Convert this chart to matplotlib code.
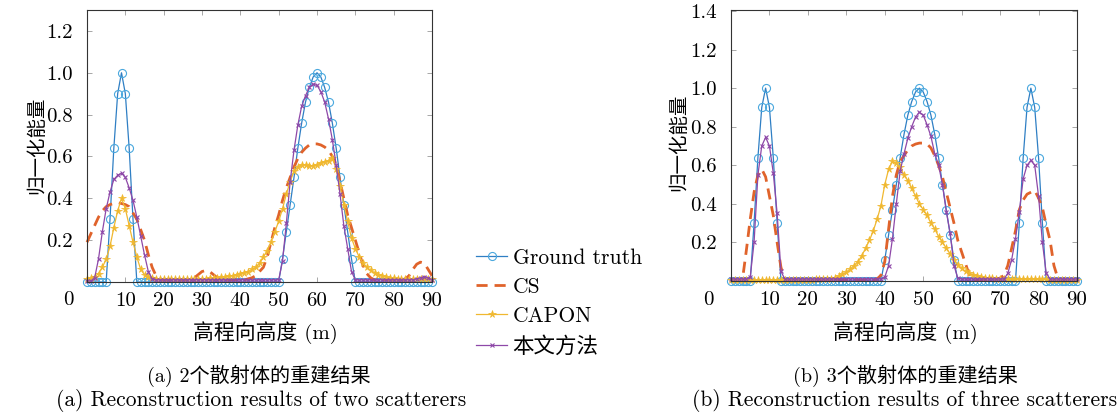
import numpy as np
import matplotlib
matplotlib.use('Agg')
import matplotlib.pyplot as plt

# fuentes: Computer Modern para lo latino, Noto CJK para el chino
FONTS = ['cmr10', 'Noto Sans CJK SC']
plt.rcParams['font.family'] = FONTS
plt.rcParams['axes.unicode_minus'] = False

# ==========================================
# Datos (x = 0..90 m, paso 1 m)
# ==========================================
x = np.arange(0, 91)

# (a) 2 dispersores
gt_a = [0, 0, 0, 0, 0, 0, .30, .64, .90, 1.0,
        .90, .64, .30, 0, 0, 0, 0, 0, 0, 0,
        0, 0, 0, 0, 0, 0, 0, 0, 0, 0,
        0, 0, 0, 0, 0, 0, 0, 0, 0, 0,
        0, 0, 0, 0, 0, 0, 0, 0, 0, 0,
        0, .11, .24, .37, .50, .64, .76, .86, .93, .98,
        1.0, .98, .93, .86, .76, .64, .50, .37, .24, .11,
        0, 0, 0, 0, 0, 0, 0, 0, 0, 0,
        0, 0, 0, 0, 0, 0, 0, 0, 0, 0,
        0]
cs_a = [.19, .23, .27, .31, .34, .36, .37, .375, .38, .375,
        .37, .36, .33, .30, .25, .20, .13, .07, .03, .015,
        .01, .01, .01, .01, .01, .01, .01, .015, .02, .035,
        .05, .055, .05, .035, .02, .01, .01, .01, .01, .01,
        .01, .01, .015, .02, .03, .05, .07, .12, .19, .26,
        .32, .39, .45, .50, .55, .59, .62, .64, .655, .66,
        .66, .655, .645, .63, .60, .56, .48, .40, .32, .26,
        .20, .14, .08, .04, .02, .01, .01, .01, .01, .01,
        .01, .01, .01, .015, .03, .06, .085, .095, .09, .06,
        .03]
capon_a = [.015, .02, .025, .04, .07, .11, .17, .26, .34, .40,
           .35, .27, .19, .12, .06, .035, .025, .02, .015, .015,
           .015, .015, .015, .015, .015, .015, .015, .015, .015, .015,
           .015, .015, .02, .02, .02, .025, .025, .03, .03, .035,
           .04, .045, .05, .06, .07, .09, .12, .15, .19, .24,
           .29, .35, .42, .48, .53, .55, .56, .56, .555, .555,
           .56, .57, .575, .58, .595, .54, .46, .37, .29, .21,
           .16, .12, .09, .07, .055, .045, .035, .03, .025, .02,
           .02, .015, .015, .015, .015, .015, .015, .015, .015, .015,
           .015]
ours_a = [.005, .005, .02, .11, .24, .35, .43, .49, .51, .52,
          .50, .45, .39, .31, .22, .13, .05, .015, .01, .01,
          .01, .01, .01, .01, .01, .01, .01, .01, .01, .01,
          .01, .01, .01, .01, .01, .01, .01, .01, .01, .01,
          .01, .01, .01, .01, .01, .01, .01, .01, .01, .01,
          .01, .10, .28, .48, .63, .75, .84, .89, .93, .945,
          .94, .91, .86, .78, .68, .56, .42, .27, .16, .05,
          .01, .01, .01, .01, .01, .01, .01, .01, .01, .01,
          .01, .01, .01, .01, .01, .01, .015, .02, .025, .02,
          .01]

# (b) 3 dispersores
gt_b = [0, 0, 0, 0, 0, 0, .30, .64, .90, 1.0,
        .90, .64, .30, 0, 0, 0, 0, 0, 0, 0,
        0, 0, 0, 0, 0, 0, 0, 0, 0, 0,
        0, 0, 0, 0, 0, 0, 0, 0, 0, 0,
        .11, .24, .37, .50, .64, .76, .86, .93, .98, 1.0,
        .98, .93, .86, .76, .64, .50, .37, .24, .11, 0,
        0, 0, 0, 0, 0, 0, 0, 0, 0, 0,
        0, 0, 0, 0, 0, .30, .64, .90, 1.0, .90,
        .64, .30, 0, 0, 0, 0, 0, 0, 0, 0,
        0]
cs_b = [.005, .005, .005, .01, .16, .32, .46, .55, .58, .54,
        .44, .34, .20, .07, .01, .005, .005, .005, .005, .005,
        .005, .005, .005, .005, .005, .005, .005, .005, .005, .005,
        .005, .005, .005, .005, .005, .005, .005, .005, .01, .03,
        .10, .27, .44, .55, .62, .65, .68, .70, .71, .715,
        .715, .71, .69, .65, .60, .54, .46, .38, .30, .21,
        .15, .09, .03, .01, .005, .005, .005, .005, .005, .01,
        .015, .03, .08, .17, .26, .37, .42, .45, .46, .47,
        .43, .38, .29, .21, .08, .015, .005, .005, .005, .005,
        .005]
capon_b = [.005, .005, .005, .005, .005, .005, .005, .005, .005, .005,
           .005, .005, .005, .005, .005, .005, .005, .005, .005, .005,
           .005, .005, .008, .008, .01, .01, .012, .015, .025, .035,
           .045, .06, .08, .10, .13, .17, .21, .26, .32, .39,
           .50, .58, .62, .61, .59, .55, .52, .48, .44, .40,
           .37, .34, .30, .27, .23, .20, .17, .14, .11, .085,
           .065, .05, .04, .032, .026, .022, .018, .015, .013, .012,
           .01, .01, .01, .01, .01, .01, .01, .01, .01, .01,
           .008, .008, .008, .005, .005, .005, .005, .005, .005, .005,
           .005]
ours_b = [.01, .01, .01, .01, .01, .02, .20, .55, .70, .745,
          .70, .56, .35, .05, .01, .01, .01, .01, .01, .01,
          .01, .01, .01, .01, .01, .01, .01, .01, .01, .01,
          .01, .01, .01, .01, .01, .01, .01, .01, .01, .01,
          .02, .08, .22, .40, .57, .66, .74, .80, .85, .875,
          .86, .81, .75, .66, .60, .50, .36, .25, .08, .015,
          .01, .01, .01, .01, .01, .01, .01, .01, .01, .01,
          .01, .01, .04, .11, .22, .36, .53, .60, .625, .60,
          .44, .20, .04, .01, .01, .01, .01, .01, .01, .01,
          .01]

xticks = [10, 20, 30, 40, 50, 60, 70, 80, 90]
yticks_a = [0.2, 0.4, 0.6, 0.8, 1.0, 1.2]
yticks_b = [0.2, 0.4, 0.6, 0.8, 1.0, 1.2, 1.4]

BLUE, BLUE_M = '#2f7fc4', '#4aa8de'
RED = '#e0632b'
YEL = '#f0b830'
PUR = '#8e48a8'

W, H = 1120, 416
TS = 15  # tamaño de letra general


def caja(l, t, r, b):
    return [l / W, 1 - b / H, (r - l) / W, (b - t) / H]


def dibujar(ax, gt, cs, capon, ours, ymax, yticks):
    ax.plot(x, gt, color=BLUE, lw=0.9, marker='o', ms=5.8, mfc='none',
            mec=BLUE_M, mew=0.8, clip_on=False, label='Ground truth')
    ax.plot(x, cs, color=RED, lw=2.0, ls=(0, (4, 2.5)), clip_on=False, label='CS')
    ax.plot(x, capon, color=YEL, lw=0.9, marker='*', ms=5.5, mew=0.5,
            clip_on=False, label='CAPON')
    ax.plot(x, ours, color=PUR, lw=0.9, marker='x', ms=3.5, mew=0.8,
            clip_on=False, label='本文方法')
    ax.set_xlim(0, 90)
    ax.set_ylim(0, ymax)
    ax.set_xticks(xticks)
    ax.set_xticklabels([str(t) for t in xticks])
    ax.set_yticks(yticks)
    ax.set_yticklabels([f'{t:.1f}' for t in yticks])
    ax.tick_params(direction='in', top=True, right=True, length=3.5,
                   width=0.6, color='#999999', labelsize=TS, pad=7)
    ax.tick_params(axis='y', pad=10)
    for s in ax.spines.values():
        s.set_color('#333333')
        s.set_linewidth(0.8)


fig = plt.figure(figsize=(11.2, 4.16), dpi=100)
ax1 = fig.add_axes(caja(87, 10, 432, 282))
ax2 = fig.add_axes(caja(731, 10, 1077, 281))

dibujar(ax1, gt_a, cs_a, capon_a, ours_a, 1.3, yticks_a)
dibujar(ax2, gt_b, cs_b, capon_b, ours_b, 1.405, yticks_b)

# etiqueta "0" desplazada, como en el original
fig.text(68 / W, 1 - 300 / H, '0', ha='center', va='center', fontsize=TS)
fig.text(708 / W, 1 - 300 / H, '0', ha='center', va='center', fontsize=TS)

# ejes
fig.text(37 / W, 1 - 145 / H, '归一化能量', rotation=90, ha='center', va='center', fontsize=14)
fig.text(679 / W, 1 - 142 / H, '归一化能量', rotation=90, ha='center', va='center', fontsize=14)
fig.text(265 / W, 1 - 333 / H, '高程向高度 (m)', ha='center', va='center', fontsize=TS)
fig.text(905 / W, 1 - 333 / H, '高程向高度 (m)', ha='center', va='center', fontsize=TS)

# subtítulos
fig.text(259 / W, 1 - 376 / H, '(a) 2个散射体的重建结果', ha='center', va='center', fontsize=14.5)
fig.text(261 / W, 1 - 400 / H, '(a) Reconstruction results of two scatterers',
         ha='center', va='center', fontsize=15.5)
fig.text(905 / W, 1 - 376 / H, '(b) 3个散射体的重建结果', ha='center', va='center', fontsize=14.5)
fig.text(905 / W, 1 - 400 / H, '(b) Reconstruction results of three scatterers',
         ha='center', va='center', fontsize=15.5)

# leyenda al centro
h, l = ax1.get_legend_handles_labels()
fig.legend(h, l, loc='upper left', bbox_to_anchor=(476 / W, 1 - 248 / H),
           frameon=False, fontsize=15.5, handlelength=1.45, handletextpad=0.25,
           labelspacing=0.45, borderpad=0, borderaxespad=0, numpoints=1)

fig.savefig('out.png', dpi=100)
